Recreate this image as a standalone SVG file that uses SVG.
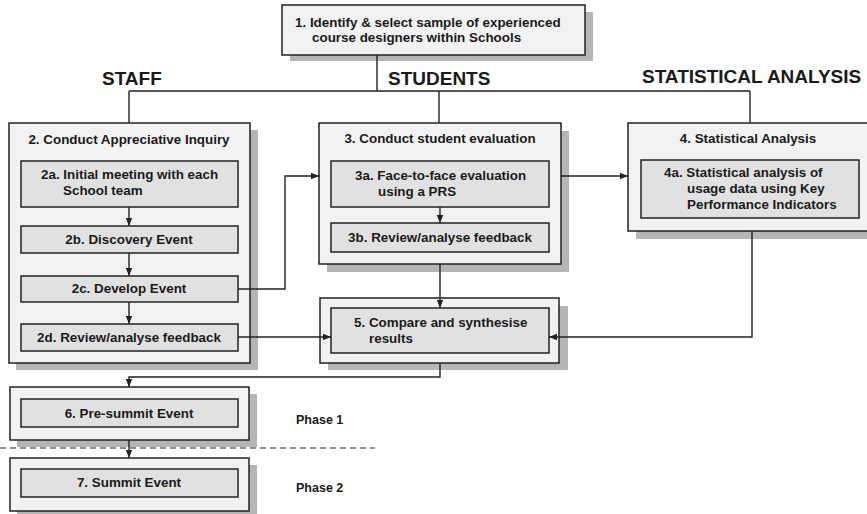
<svg xmlns="http://www.w3.org/2000/svg" width="867" height="514" viewBox="0 0 867 514">
<style>
.outer{fill:#f2f2f2;stroke:#222;stroke-width:1.5}
.inner{fill:#e1e1e1;stroke:#222;stroke-width:1.5}
.shadow{fill:#b5b5b5}
.t{font-family:"Liberation Sans",Arial,sans-serif;font-weight:bold;font-size:13.4px;fill:#1a1a1a}
.c{text-anchor:middle}
.h{font-family:"Liberation Sans",Arial,sans-serif;font-weight:bold;font-size:19px;fill:#1a1a1a}
.ln{fill:none;stroke:#222;stroke-width:1.4}
</style>
<defs>
<marker id="ah" markerUnits="userSpaceOnUse" markerWidth="8" markerHeight="8" viewBox="0 0 8 8" refX="8" refY="4" orient="auto">
<path d="M0,0.8 L8,4 L0,7.2 Z" fill="#222"/>
</marker>
</defs>
<rect x="0" y="0" width="867" height="514" fill="#fff"/>
<g id="headers">
<text class="h" x="102" y="85">STAFF</text>
<text class="h" x="388" y="85">STUDENTS</text>
<text class="h" x="642" y="83">STATISTICAL ANALYSIS</text>
</g>
<g id="node1">
<rect class="shadow" x="290" y="12" width="303" height="49"/>
<rect class="outer" x="282" y="5" width="303" height="50"/>
<text class="t" x="295" y="27">1. Identify &amp; select sample of experienced</text>
<text class="t" x="312" y="42">course designers within Schools</text>
</g>
<g id="node2">
<rect class="shadow" x="16" y="130" width="242" height="240"/>
<rect class="outer" x="9" y="123" width="241" height="240"/>
<text class="t c" x="129" y="144">2. Conduct Appreciative Inquiry</text>
</g>
<g id="node2a">
<rect class="inner" x="21" y="161" width="217" height="46"/>
<text class="t" x="41" y="179">2a. Initial meeting with each</text>
<text class="t" x="63" y="195">School team</text>
</g>
<g id="node2b">
<rect class="inner" x="21" y="226" width="217" height="27"/>
<text class="t c" x="129" y="244">2b. Discovery Event</text>
</g>
<g id="node2c">
<rect class="inner" x="21" y="276" width="217" height="26"/>
<text class="t c" x="129" y="293">2c. Develop Event</text>
</g>
<g id="node2d">
<rect class="inner" x="21" y="324" width="217" height="27"/>
<text class="t c" x="129" y="342">2d. Review/analyse feedback</text>
</g>
<g id="node3">
<rect class="shadow" x="327" y="131" width="242" height="141"/>
<rect class="outer" x="319" y="123" width="242" height="141"/>
<text class="t c" x="440" y="143">3. Conduct student evaluation</text>
</g>
<g id="node3a">
<rect class="inner" x="331" y="161" width="218" height="46"/>
<text class="t" x="355" y="180">3a. Face-to-face evaluation</text>
<text class="t" x="378" y="196">using a PRS</text>
</g>
<g id="node3b">
<rect class="inner" x="331" y="223" width="218" height="29"/>
<text class="t c" x="440" y="242">3b. Review/analyse feedback</text>
</g>
<g id="node4">
<rect class="shadow" x="636" y="131" width="240" height="108"/>
<rect class="outer" x="628" y="123" width="240" height="108"/>
<text class="t c" x="748" y="143">4. Statistical Analysis</text>
</g>
<g id="node4a">
<rect class="inner" x="641" y="160" width="218" height="58"/>
<text class="t" x="664" y="177">4a. Statistical analysis of</text>
<text class="t" x="687" y="193">usage data using Key</text>
<text class="t" x="687" y="209">Performance Indicators</text>
</g>
<g id="node5">
<rect class="shadow" x="328" y="306" width="240" height="64"/>
<rect class="outer" x="320" y="298" width="239" height="65"/>
<rect class="inner" x="331" y="308" width="218" height="45"/>
<text class="t" x="354" y="327">5. Compare and synthesise</text>
<text class="t" x="369" y="343">results</text>
</g>
<g id="node6">
<rect class="shadow" x="17" y="394" width="240" height="53"/>
<rect class="outer" x="10" y="387" width="239" height="53"/>
<rect class="inner" x="21" y="399" width="217" height="28"/>
<text class="t c" x="129" y="418">6. Pre-summit Event</text>
</g>
<g id="node7">
<rect class="shadow" x="17" y="465" width="240" height="53"/>
<rect class="outer" x="10" y="458" width="239" height="53"/>
<rect class="inner" x="21" y="469" width="217" height="28"/>
<text class="t c" x="129" y="487">7. Summit Event</text>
</g>
<g id="phases">
<text class="t" x="296" y="424" style="font-size:12.5px">Phase 1</text>
<text class="t" x="296" y="492" style="font-size:12.5px">Phase 2</text>
</g>
<g id="connectors">
<path class="ln" d="M377,55 V91 M129,91 H750 M129,91 V123 M439,91 V123 M750,91 V123"/>
<path class="ln" d="M129,207 V226" marker-end="url(#ah)"/>
<path class="ln" d="M129,253 V276" marker-end="url(#ah)"/>
<path class="ln" d="M129,302 V324" marker-end="url(#ah)"/>
<path class="ln" d="M238,289 H285 V176 H319" marker-end="url(#ah)"/>
<path class="ln" d="M440,207 V223" marker-end="url(#ah)"/>
<path class="ln" d="M561,176 H628" marker-end="url(#ah)"/>
<path class="ln" d="M440,264 V308" marker-end="url(#ah)"/>
<path class="ln" d="M238,337 H331" marker-end="url(#ah)"/>
<path class="ln" d="M752,231 V337 H549" marker-end="url(#ah)"/>
<path class="ln" d="M440,363 V377 H129 V387" marker-end="url(#ah)"/>
<path class="ln" d="M129,440 V458" marker-end="url(#ah)"/>
<path d="M0,448 H375" fill="none" stroke="#222" stroke-width="1.2" stroke-dasharray="6,4"/>
</g>
</svg>
